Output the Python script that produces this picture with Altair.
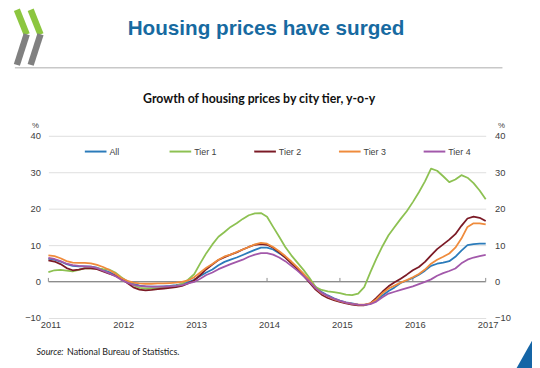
import altair as alt
import pandas as pd

# ---------------- data ----------------
years = [2011, 2012, 2013, 2014, 2015, 2016, 2017]
y_ticks = [-10, 0, 10, 20, 30, 40]
series_names = ["All", "Tier 1", "Tier 2", "Tier 3", "Tier 4"]
series_colors = ["#2b7bba", "#8dc152", "#7b1a26", "#ef8b3c", "#a258aa"]
start_year = 2011  # monthly observations, Jan 2011 .. Jan 2017

all_cities = [6.3, 6.0, 5.5, 4.8, 4.3, 4.2, 4.2, 4.1, 3.8, 3.2, 2.6, 1.8,
              0.9, 0.1, -0.6, -1.1, -1.3, -1.4, -1.4, -1.3, -1.2, -1.0, -0.7, -0.2,
              0.5, 1.5, 2.5, 3.3, 4.5, 5.4, 6.0, 6.6, 7.3, 8.0, 8.7, 9.3,
              9.3, 8.8, 7.8, 6.7, 5.3, 3.7, 2.0, 0.4, -1.5, -2.9, -3.8, -4.6,
              -5.2, -5.7, -6.0, -6.3, -6.4, -6.1, -5.2, -3.8, -2.6, -1.6, -0.4, 0.3,
              1.0, 1.9, 3.0, 4.3, 4.9, 5.2, 5.6, 6.8, 8.5, 10.0, 10.3, 10.4, 10.4]
tier1 = [2.6, 3.1, 3.2, 3.0, 2.8, 3.2, 3.6, 3.7, 3.6, 3.4, 3.3, 2.5,
         1.2, 0.0, -1.0, -1.7, -1.9, -1.9, -1.8, -1.6, -1.4, -1.2, -0.6, 0.5,
         2.0, 5.0, 7.8, 10.2, 12.3, 13.6, 15.0, 16.0, 17.2, 18.2, 18.7, 18.8,
         17.8, 15.0, 12.3, 9.5, 7.2, 5.2, 3.2, 1.0, -1.5, -2.3, -2.7, -2.9,
         -3.2, -3.6, -3.7, -3.3, -1.5, 2.5, 6.3, 9.7, 12.7, 15.0, 17.2, 19.3,
         21.8, 24.5, 27.5, 31.0, 30.4, 28.9, 27.3, 28.0, 29.2, 28.5, 27.0, 25.0, 22.6]
tier2 = [5.8, 5.5, 4.8, 3.7, 3.1, 3.3, 3.6, 3.6, 3.4, 2.8, 2.2, 1.6,
         0.7, -0.4, -1.6, -2.2, -2.4, -2.3, -2.1, -1.9, -1.7, -1.5, -1.2, -0.5,
         0.3, 1.8, 3.4, 4.7, 5.9, 6.7, 7.4, 8.0, 8.8, 9.5, 10.1, 10.3,
         10.1, 9.3, 8.0, 6.6, 5.0, 3.4, 1.6, -0.3, -2.2, -3.6, -4.5, -5.1,
         -5.6, -6.0, -6.3, -6.5, -6.5, -6.0, -4.5, -2.8, -1.3, -0.2, 0.8, 1.9,
         3.1, 4.0, 5.4, 7.2, 8.9, 10.2, 11.5, 13.0, 15.3, 17.3, 17.8, 17.5, 16.6]
tier3 = [7.2, 7.0, 6.4, 5.6, 5.2, 5.1, 5.1, 5.0, 4.6, 4.0, 3.2, 2.2,
         1.0, 0.2, -0.3, -0.5, -0.6, -0.6, -0.5, -0.5, -0.4, -0.3, -0.1, 0.3,
         1.2, 2.5, 3.8, 4.8, 6.0, 6.9, 7.4, 8.1, 8.8, 9.5, 10.2, 10.6,
         10.4, 9.5, 8.3, 7.0, 5.5, 3.9, 2.2, 0.3, -1.8, -3.2, -4.1, -4.8,
         -5.4, -5.8, -6.1, -6.3, -6.3, -6.0, -4.9, -3.2, -1.9, -1.1, -0.3, 0.4,
         1.2, 2.1, 3.3, 4.9, 6.0, 6.8, 7.7, 9.3, 11.8, 15.0, 16.0, 16.0, 15.7]
tier4 = [6.5, 6.2, 5.6, 4.9, 4.5, 4.3, 4.2, 4.1, 3.7, 3.0, 2.3, 1.5,
         0.5, -0.3, -0.9, -1.2, -1.3, -1.4, -1.4, -1.4, -1.3, -1.2, -1.0, -0.5,
         -0.1, 0.8, 1.8, 2.5, 3.4, 4.1, 4.8, 5.4, 6.0, 6.8, 7.4, 7.8,
         7.8, 7.4, 6.6, 5.6, 4.3, 3.0, 1.5, 0.0, -1.8, -3.1, -4.0, -4.7,
         -5.3, -5.8, -6.1, -6.3, -6.4, -6.2, -5.5, -4.3, -3.3, -2.8, -2.3, -1.8,
         -1.3, -0.7, -0.1, 0.6, 1.6, 2.3, 2.9, 3.6, 5.0, 6.0, 6.6, 7.0, 7.3]

header_title = "Housing prices have surged"
chart_title = "Growth of housing prices by city tier, y-o-y"
source_label = "Source:"
source_text = "National Bureau of Statistics."

# ---------------- tables ----------------
rows = []
for name, vals in zip(series_names, [all_cities, tier1, tier2, tier3, tier4]):
    for m, v in enumerate(vals):
        rows.append({"t": start_year + m / 12.0, "value": v, "series": name})
df = pd.DataFrame(rows)
years_df = pd.DataFrame({"year": years, "base": [0] * len(years), "top": [1] * len(years)})
zero_df = pd.DataFrame({"zero": [0]})
one = pd.DataFrame({"k": [0]})

AX_FONT = "Liberation Sans Narrow, Liberation Sans, Arial"
yscale = alt.Scale(domain=[-10, 40], nice=False, zero=False)
xscale = alt.Scale(domain=[2011, 2017], nice=False, zero=False)
x_enc_axis = alt.Axis(values=years, format="d", title=None, grid=False, domain=False,
                      ticks=False, labelFont=AX_FONT, labelFontSize=9.5,
                      labelColor="#404040", labelPadding=2, labelOffset=2,
                      labelFlush=False, labelOverlap=False)

left_axis = alt.Axis(values=y_ticks, title=None, orient="left", grid=True,
                     gridColor="#dedede", gridWidth=1, domain=False, ticks=False,
                     labelFont=AX_FONT, labelFontSize=9.5, labelColor="#404040",
                     labelPadding=8)
right_axis = alt.Axis(values=y_ticks, title=None, orient="right", grid=False,
                      domain=False, ticks=False, labelFont=AX_FONT, labelFontSize=9.5,
                      labelColor="#404040", labelPadding=9, labelAlign="left")

# zero line with right-hand axis
zero_line = alt.Chart(zero_df).mark_rule(color="#8c8c8c", strokeWidth=1.3).encode(
    y=alt.Y("zero:Q", scale=yscale, axis=right_axis)
)
year_ticks = alt.Chart(years_df).mark_rule(color="#8c8c8c", strokeWidth=1).encode(
    x=alt.X("year:Q", scale=xscale, axis=x_enc_axis),
    y=alt.Y("base:Q", scale=yscale, axis=None),
    y2="top:Q",
)

lines = alt.Chart(df).mark_line(strokeWidth=1.8, strokeJoin="round").encode(
    x=alt.X("t:Q", scale=xscale, axis=x_enc_axis),
    y=alt.Y("value:Q", scale=yscale, axis=left_axis),
    color=alt.Color(
        "series:N",
        scale=alt.Scale(domain=series_names, range=series_colors),
        sort=series_names,
        legend=alt.Legend(
            title=None, orient="none", legendX=36, legendY=4, direction="horizontal",
            columns=5, symbolType="stroke", symbolSize=484, symbolStrokeWidth=2,
            labelFont=AX_FONT, labelFontSize=9, labelColor="#404040", labelOffset=2,
            columnPadding=34, gridAlign="all", padding=0,
        ),
    ),
    order=alt.Order("t:Q"),
)

def text_layer(txt, x, y, size, color="#000000", font="Liberation Sans", weight="normal",
               style="normal", align="center"):
    return alt.Chart(one).mark_text(
        text=txt, fontSize=size, color=color, font=font, fontWeight=weight,
        fontStyle=style, align=align, baseline="middle",
    ).encode(x=alt.value(x), y=alt.value(y))

def seg(x1, y1, x2, y2, color, width):
    return alt.Chart(one).mark_rule(color=color, strokeWidth=width, strokeCap="butt").encode(
        x=alt.value(x1), y=alt.value(y1), x2=alt.value(x2), y2=alt.value(y2)
    )

decor = [
    # header logo (chevrons)
    seg(-32, -128, -22, -103, "#8cc63f", 6.5),
    seg(-22, -103, -32, -72, "#808080", 6.5),
    seg(-18, -128, -8, -103, "#8cc63f", 6.5),
    seg(-8, -103, -18, -72, "#808080", 6.5),
    # header separator
    seg(-34, -69, 461, -69, "#c8c8c8", 1.5),
    # corner triangle
    seg(480, 258, 510, 205, "#1565a6", 30),
    text_layer(header_title, 221, -108, 21, color="#176aa1", weight="bold"),
    text_layer(chart_title, 214, -37, 12.5, color="#111111", font="Lato", weight="bold"),
    text_layer("%", -13, -10, 8, color="#404040", font=AX_FONT),
    text_layer("%", 460, -10, 8, color="#404040", font=AX_FONT),
    text_layer(source_label, -12, 220, 9, color="#222222", font="Lato", style="italic", align="left"),
    text_layer(source_text, 19, 220, 9, color="#222222", font="Lato", align="left"),
]

chart = alt.layer(zero_line, year_ticks, lines, *decor).resolve_axis(
    y="independent"
).properties(
    width=444, height=185,
    autosize=alt.AutoSizeParams(type="none"),
    padding={"left": 41, "top": 127, "right": 47, "bottom": 48},
    background="#ffffff",
).configure_view(stroke="transparent")

chart.save("out.html", embed_options={"renderer": "svg", "actions": False})
